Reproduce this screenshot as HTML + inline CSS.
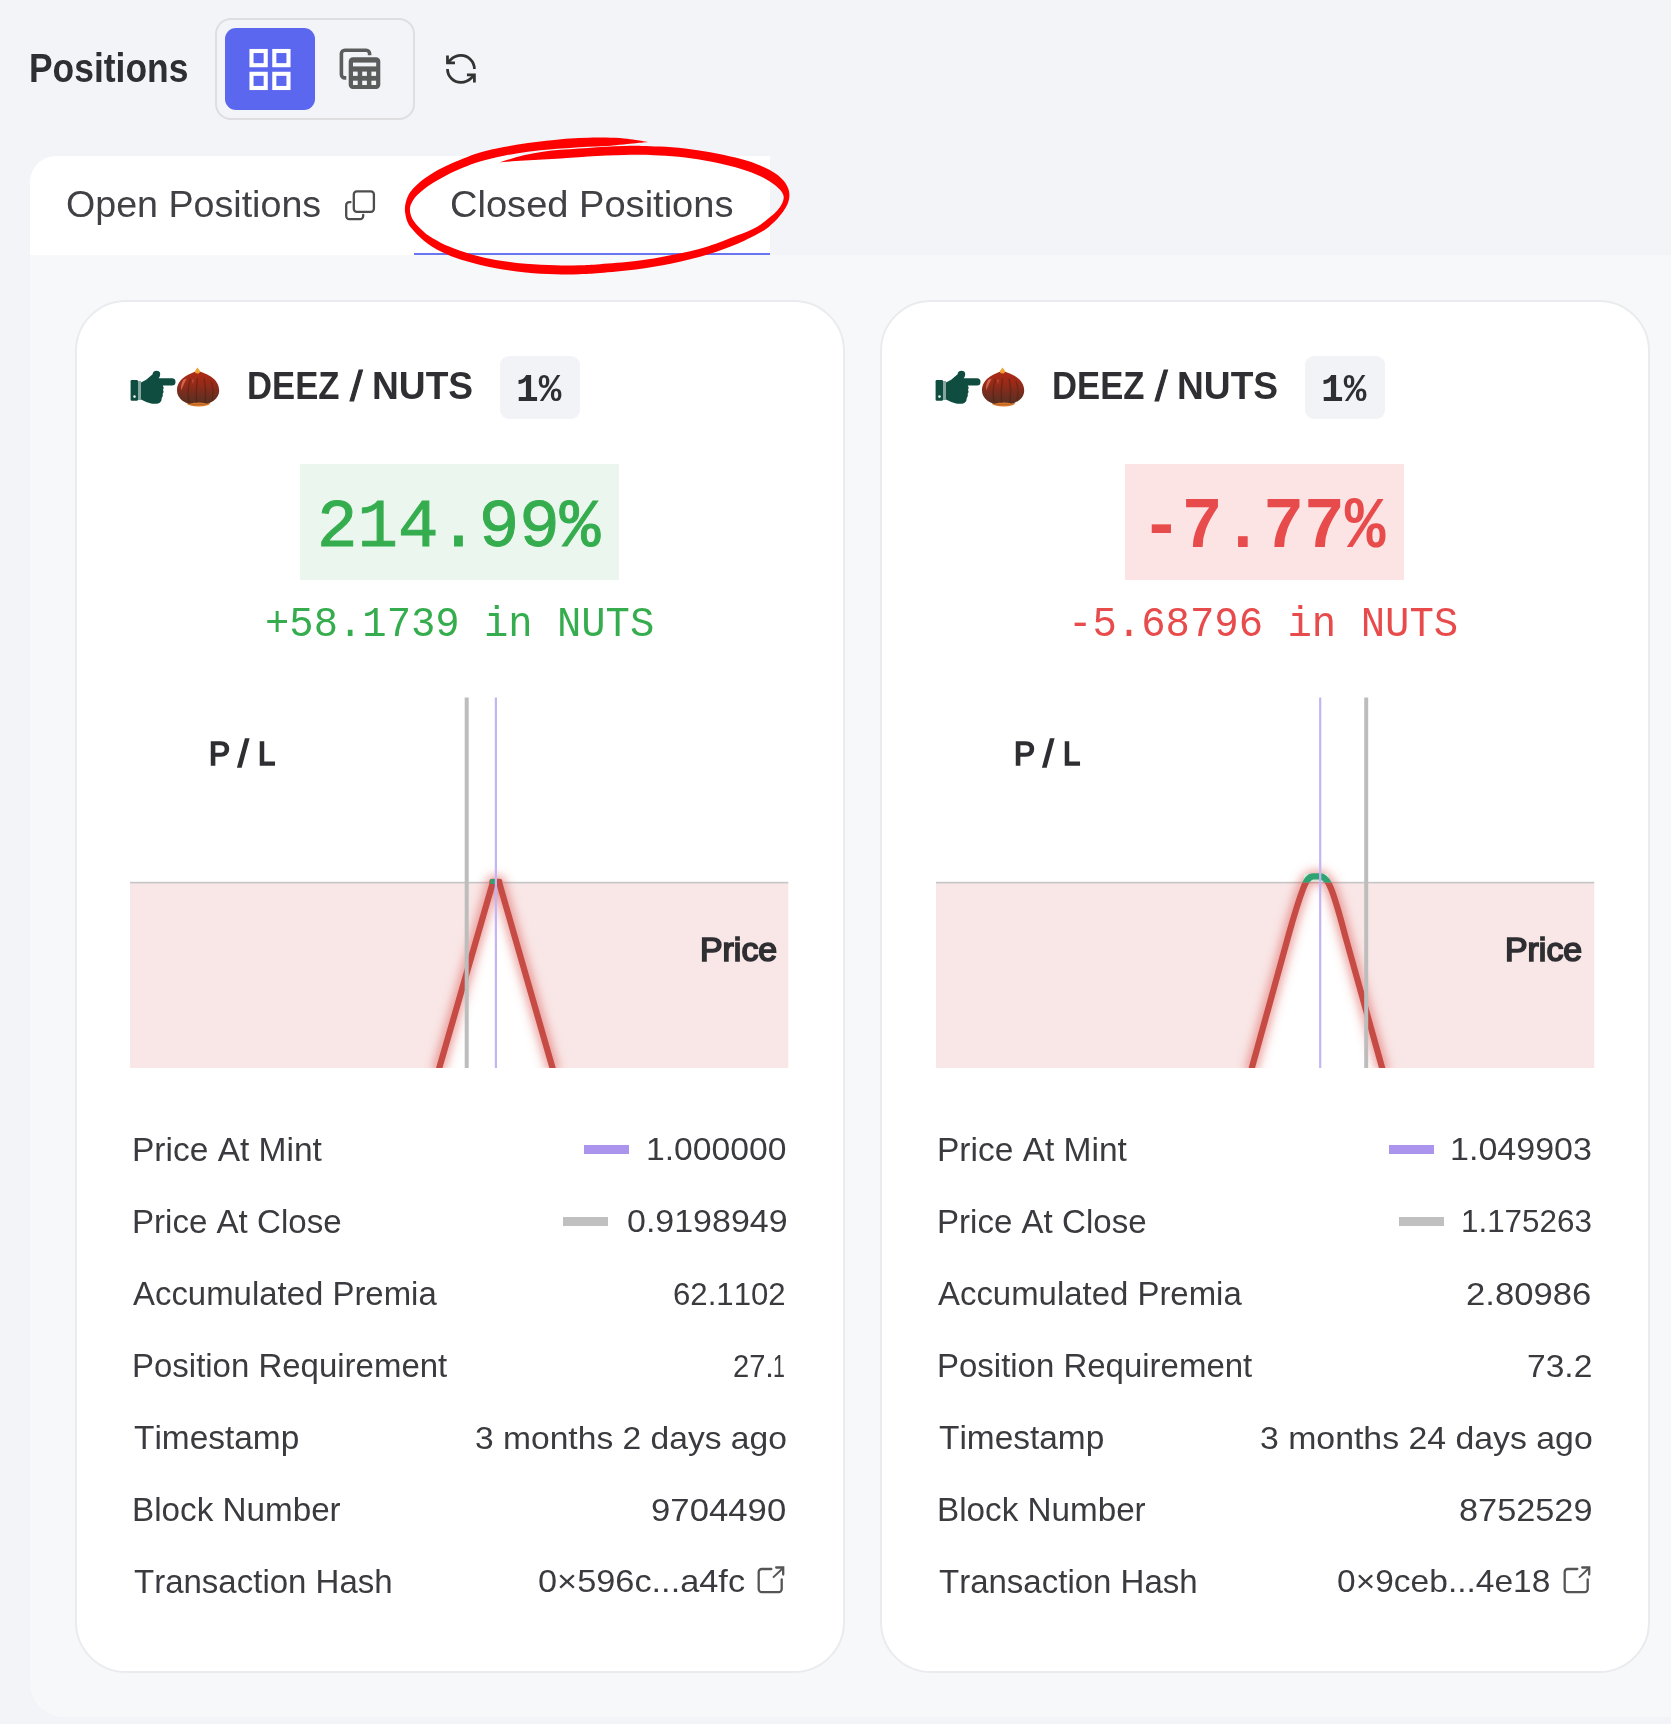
<!DOCTYPE html>
<html lang="en"><head><meta charset="utf-8"><title>Positions</title>
<style>
html,body{margin:0;padding:0;overflow:hidden}
body{width:1671px;height:1724px;background:#f3f4f8;position:relative;overflow:hidden;font-family:"Liberation Sans",sans-serif;font-kerning:none}
.t{position:absolute;white-space:nowrap;transform-origin:0 0;font-kerning:none}
.abs{position:absolute}
.card{position:absolute;top:300px;width:770px;height:1373px;box-sizing:border-box;background:#fff;border:2px solid #eaebef;border-radius:51px}
svg{position:absolute;overflow:visible}
</style></head>
<body>
<div class="t" style="left:29.03px;top:49.07px;font:700 40.26px/40.26px 'Liberation Sans',sans-serif;font-kerning:none;letter-spacing:0.00px;color:#2f2f33;transform:scaleX(0.8798);">Positions</div>
<div class="abs" style="left:215px;top:18px;width:200px;height:102px;border:2px solid #dedee1;border-radius:16px;box-sizing:border-box"></div>
<div class="abs" style="left:225px;top:28px;width:90px;height:82px;background:#5b67ee;border-radius:11px"></div>
<svg style="left:245px;top:45px" width="50" height="50" viewBox="245 45 50 50"><rect x="251.5" y="51.0" width="14.2" height="14.2" fill="none" stroke="#fff" stroke-width="4.1"/><rect x="251.5" y="73.8" width="14.2" height="14.2" fill="none" stroke="#fff" stroke-width="4.1"/><rect x="274.3" y="51.0" width="14.2" height="14.2" fill="none" stroke="#fff" stroke-width="4.1"/><rect x="274.3" y="73.8" width="14.2" height="14.2" fill="none" stroke="#fff" stroke-width="4.1"/></svg>
<svg style="left:335px;top:45px" width="50" height="50" viewBox="335 45 50 50"><path d="M369.6 55.3 V53.6 a3.4 3.4 0 0 0 -3.4 -3.4 H344.8 a3.4 3.4 0 0 0 -3.4 3.4 V74.5 a3.4 3.4 0 0 0 3.4 3.4 H346.3" fill="none" stroke="#5c5c5c" stroke-width="3.6"/><rect x="348.7" y="57.2" width="31.6" height="31.8" rx="4.2" fill="#5c5c5c"/><rect x="353" y="62.6" width="23.2" height="3.8" fill="#f3f4f8"/><rect x="353.0" y="71.6" width="4.7" height="4.3" fill="#f3f4f8"/><rect x="353.0" y="80.7" width="4.7" height="4.3" fill="#f3f4f8"/><rect x="362.2" y="71.6" width="4.7" height="4.3" fill="#f3f4f8"/><rect x="362.2" y="80.7" width="4.7" height="4.3" fill="#f3f4f8"/><rect x="371.4" y="71.6" width="4.7" height="4.3" fill="#f3f4f8"/><rect x="371.4" y="80.7" width="4.7" height="4.3" fill="#f3f4f8"/></svg>
<svg style="left:442.8px;top:50.8px" width="35.9" height="35.9" viewBox="0 0 24 24"><g fill="none" stroke="#333" stroke-width="1.85" stroke-linecap="butt" stroke-linejoin="miter"><path d="M21 12a9 9 0 0 0-9-9 9.75 9.75 0 0 0-6.74 2.74L3 8"/><path d="M3 3v5h5"/><path d="M3 12a9 9 0 0 0 9 9 9.75 9.75 0 0 0 6.74-2.74L21 16"/><path d="M16 16h5v5"/></g></svg>
<div class="abs" style="left:30px;top:156px;width:740px;height:99px;background:#fff;border-top-left-radius:26px"></div>
<div class="abs" style="left:30px;top:255px;width:1641px;height:1462px;background:#f7f8fa;border-bottom-left-radius:34px"></div>
<div class="abs" style="left:414px;top:253px;width:356px;height:2px;background:#6a75f1"></div>
<div class="t" style="left:65.92px;top:187.29px;font:400 36.63px/36.63px 'Liberation Sans',sans-serif;font-kerning:none;letter-spacing:0.00px;color:#404045;transform:scaleX(1.0271);">Open Positions</div>
<svg style="left:340px;top:185px" width="40" height="40" viewBox="340 185 40 40"><rect x="353.8" y="191.4" width="20.1" height="20.4" rx="3" fill="none" stroke="#4d4d4d" stroke-width="2.3"/><path d="M350.5 202.1 H349.2 a3 3 0 0 0 -3 3 V216.1 a3 3 0 0 0 3 3 H360.2 a3 3 0 0 0 3 -3 V214.8" fill="none" stroke="#4d4d4d" stroke-width="2.3" stroke-linecap="round"/></svg>
<div class="t" style="left:449.67px;top:187.29px;font:400 36.63px/36.63px 'Liberation Sans',sans-serif;font-kerning:none;letter-spacing:0.00px;color:#404045;transform:scaleX(1.0392);">Closed Positions</div>
<div class="card" style="left:75px"></div>
<svg style="left:128.0px;top:366.0px" width="52" height="42" viewBox="128.0 366.0 52 42"><g transform="translate(0.00 0.00)"><rect x="130.6" y="380" width="7.4" height="20.8" rx="1.2" fill="#0f4d40"/><rect x="138" y="381" width="3" height="19" fill="#0f4d40" fill-opacity="0.5"/><circle cx="134.5" cy="396.6" r="1.3" fill="#e9f1ee"/><path d="M141 382.4 L146.2 379.8 L152.6 374.2 Q152.8 370.7 156.5 370.7 Q160.4 370.8 160.2 374.4 Q160 376.6 158.6 378.3 L172 378.3 Q175.5 378.4 175.5 381.9 Q175.5 385.4 172 385.4 L162.8 385.4 Q164.4 387.6 163 389.6 Q164.2 391.6 162.7 393.8 Q163.4 396 161.8 398 Q162 401.2 159.4 402.9 Q156.5 404.2 151 403.6 Q146.5 402.6 141 399.6 Z" fill="#0f4d40"/></g></svg>
<svg style="left:175.0px;top:365.0px" width="48" height="45" viewBox="175.0 365.0 48 45"><defs><linearGradient id="ng176" x1="0" y1="0" x2="0" y2="1"><stop offset="0" stop-color="#ad2a14"/><stop offset="0.35" stop-color="#9a2a18"/><stop offset="0.75" stop-color="#6b2e20"/><stop offset="1" stop-color="#55301f"/></linearGradient><clipPath id="ng176c"><path d="M197.6 371 C204 372.8 219.2 377.5 219.2 390.5 C219.2 398.5 211.5 404.8 198 404.8 C184.5 404.8 177 398.5 177 390.5 C177 377.5 192 372.8 197.6 371 Z"/></clipPath></defs><g transform="translate(0.00 0.00)"><ellipse cx="198.5" cy="403" rx="11.6" ry="3.6" fill="#d9782b"/><path d="M197.6 371 C204 372.8 219.2 377.5 219.2 390.5 C219.2 398.5 211.5 404.8 198 404.8 C184.5 404.8 177 398.5 177 390.5 C177 377.5 192 372.8 197.6 371 Z" fill="url(#ng176)"/><g clip-path="url(#ng176c)"><ellipse cx="198.5" cy="405.8" rx="11" ry="3.2" fill="#d9782b"/><path d="M190.5 379 Q186.5 390 189 402" stroke="#4a1c12" stroke-opacity="0.45" stroke-width="1.4" fill="none"/><path d="M197.5 378 Q195.5 390 196.5 403" stroke="#4a1c12" stroke-opacity="0.45" stroke-width="1.4" fill="none"/><path d="M204 378.5 Q206.5 390 205 402.5" stroke="#4a1c12" stroke-opacity="0.45" stroke-width="1.4" fill="none"/><path d="M211 381 Q214.5 390 212 400" stroke="#4a1c12" stroke-opacity="0.4" stroke-width="1.3" fill="none"/><path d="M183.6 379.5 Q180.4 384 181.2 390.5 Q184 383.5 186.8 378.6 Z" fill="#d8705c" fill-opacity="0.85"/><path d="M192.2 379.8 L193.6 379.4 L193 384.5 Z" fill="#d8705c" fill-opacity="0.7"/></g><path d="M197.5 367.6 L200.4 371.4 L198.8 373.6 L195.6 373.2 L194.8 371.2 Z" fill="#f0a232"/></g></svg>
<div class="t" style="left:246.98px;top:365.73px;font:700 39.54px/39.54px 'Liberation Sans',sans-serif;font-kerning:none;letter-spacing:0.00px;color:#2f2f33;transform:scaleX(0.8765);">DEEZ</div>
<div class="t" style="left:349.70px;top:366.34px;font:400 42.49px/42.49px 'Liberation Sans',sans-serif;font-kerning:none;letter-spacing:0.00px;color:#2f2f33;transform:scaleX(1.0675);-webkit-text-stroke:1.0px #2f2f33;">/</div>
<div class="t" style="left:371.81px;top:365.73px;font:700 39.54px/39.54px 'Liberation Sans',sans-serif;font-kerning:none;letter-spacing:0.00px;color:#2f2f33;transform:scaleX(0.9397);">NUTS</div>
<div class="abs" style="left:499.5px;top:355.5px;width:80px;height:63px;background:#f2f3f7;border-radius:9px"></div>
<div class="t" style="left:515.66px;top:370.69px;font:700 39.62px/39.62px 'Liberation Mono',monospace;font-kerning:none;letter-spacing:0.00px;color:#2f2f33;transform:scaleX(0.9531);">1%</div>
<div class="abs" style="left:299.8px;top:463.6px;width:319.59999999999997px;height:116.8px;background:#ebf6ee"></div>
<div class="t" style="left:316.86px;top:494.47px;font:400 69.06px/69.06px 'Liberation Mono',monospace;font-kerning:none;letter-spacing:0.00px;color:#35ad4e;transform:scaleX(0.9762);-webkit-text-stroke:1.0px #35ad4e;">214.99%</div>
<div class="t" style="left:264.70px;top:603.97px;font:400 42.05px/42.05px 'Liberation Mono',monospace;font-kerning:none;letter-spacing:0.00px;color:#35ad4e;transform:scaleX(0.9641);">+58.1739 in NUTS</div>
<svg style="left:130.3px;top:690px" width="658.5" height="378.0" viewBox="130.3 690 658.5 378.0"><defs><clipPath id="c1"><rect x="130.3" y="690" width="658.5" height="378.0"/></clipPath><clipPath id="c1r"><rect x="130.3" y="882.6" width="658.5" height="185.4"/></clipPath><clipPath id="c1g"><rect x="130.3" y="690" width="658.5" height="192.6"/></clipPath><filter id="c1b" x="-20%" y="-20%" width="140%" height="140%"><feGaussianBlur stdDeviation="5.5"/></filter></defs><g clip-path="url(#c1)"><path d="M 130.3 882.6 L 493.0 882.6 L 439.6 1068.0 L 130.3 1068.0 Z" fill="#f9e7e7"/><path d="M 499.6 882.6 L 788.8 882.6 L 788.8 1068.0 L 552.8 1068.0 Z" fill="#f9e7e7"/><rect x="130.3" y="881.8000000000001" width="658.5" height="1.6" fill="#c6c6c6"/><path d="M 438.4 1072 L 493.4 881.6 L 499.2 881.6 L 554.0 1072" fill="none" stroke="#dc5a55" stroke-opacity="0.7" stroke-width="10" filter="url(#c1b)"/><g clip-path="url(#c1r)"><path d="M 438.4 1072 L 493.4 881.6 L 499.2 881.6 L 554.0 1072" fill="none" stroke="#c54b44" stroke-width="6.2" stroke-linejoin="round"/></g><path d="M 492.5 881.6 L 499.8 881.6" stroke="#c54b44" stroke-width="5.6" stroke-linecap="round"/><rect x="490.6" y="879" width="4.6" height="5" fill="#2fa472"/><rect x="465.0" y="697.5" width="4" height="370.5" fill="#bdbdbd"/><rect x="495.09999999999997" y="697.5" width="2.2" height="370.5" fill="#c3b5f5"/></g></svg>
<div class="t" style="left:208.76px;top:736.75px;font:400 32.99px/32.99px 'Liberation Sans',sans-serif;font-kerning:none;letter-spacing:0.00px;color:#2f2f33;transform:scaleX(0.9567);-webkit-text-stroke:1.7px #2f2f33;">P</div>
<div class="t" style="left:237.85px;top:736.45px;font:400 37.86px/37.86px 'Liberation Sans',sans-serif;font-kerning:none;letter-spacing:0.00px;color:#2f2f33;transform:scaleX(0.9983);-webkit-text-stroke:1.7px #2f2f33;">/</div>
<div class="t" style="left:257.60px;top:736.75px;font:400 32.99px/32.99px 'Liberation Sans',sans-serif;font-kerning:none;letter-spacing:0.00px;color:#2f2f33;transform:scaleX(0.9417);-webkit-text-stroke:1.7px #2f2f33;">L</div>
<div class="t" style="left:700.37px;top:932.55px;font:400 32.99px/32.99px 'Liberation Sans',sans-serif;font-kerning:none;letter-spacing:0.00px;color:#2f2f33;transform:scaleX(1.0268);-webkit-text-stroke:1.7px #2f2f33;">Price</div>
<div class="t" style="left:132.10px;top:1133.79px;font:400 32.41px/32.41px 'Liberation Sans',sans-serif;font-kerning:none;letter-spacing:0.00px;color:#3a3a3f;transform:scaleX(1.0339);">Price At Mint</div>
<div class="t" style="left:132.14px;top:1205.79px;font:400 32.41px/32.41px 'Liberation Sans',sans-serif;font-kerning:none;letter-spacing:0.00px;color:#3a3a3f;transform:scaleX(1.0208);">Price At Close</div>
<div class="t" style="left:133.24px;top:1277.79px;font:400 32.41px/32.41px 'Liberation Sans',sans-serif;font-kerning:none;letter-spacing:0.00px;color:#3a3a3f;transform:scaleX(1.0158);">Accumulated Premia</div>
<div class="t" style="left:132.14px;top:1349.79px;font:400 32.41px/32.41px 'Liberation Sans',sans-serif;font-kerning:none;letter-spacing:0.00px;color:#3a3a3f;transform:scaleX(1.0174);">Position Requirement</div>
<div class="t" style="left:133.75px;top:1421.79px;font:400 32.41px/32.41px 'Liberation Sans',sans-serif;font-kerning:none;letter-spacing:0.00px;color:#3a3a3f;transform:scaleX(1.0309);">Timestamp</div>
<div class="t" style="left:132.12px;top:1493.79px;font:400 32.41px/32.41px 'Liberation Sans',sans-serif;font-kerning:none;letter-spacing:0.00px;color:#3a3a3f;transform:scaleX(1.0254);">Block Number</div>
<div class="t" style="left:133.76px;top:1565.79px;font:400 32.41px/32.41px 'Liberation Sans',sans-serif;font-kerning:none;letter-spacing:0.00px;color:#3a3a3f;transform:scaleX(1.0184);">Transaction Hash</div>
<div class="t" style="left:646.33px;top:1133.93px;font:400 31.94px/31.94px 'Liberation Sans',sans-serif;font-kerning:none;letter-spacing:0.00px;color:#3a3a3f;transform:scaleX(1.0546);">1.000000</div>
<div class="t" style="left:626.57px;top:1205.73px;font:400 31.94px/31.94px 'Liberation Sans',sans-serif;font-kerning:none;letter-spacing:0.00px;color:#3a3a3f;transform:scaleX(1.0634);">0.9198949</div>
<div class="t" style="left:673.42px;top:1279.03px;font:400 31.94px/31.94px 'Liberation Sans',sans-serif;font-kerning:none;letter-spacing:0.00px;color:#3a3a3f;transform:scaleX(0.9758);">62.1102</div>
<div class="t" style="left:733.23px;top:1351.43px;font:400 31.94px/31.94px 'Liberation Sans',sans-serif;font-kerning:none;letter-spacing:0.00px;color:#3a3a3f;transform:scaleX(0.9130);">27</div>
<div class="t" style="left:765.23px;top:1351.43px;font:400 31.94px/31.94px 'Liberation Sans',sans-serif;font-kerning:none;letter-spacing:0.00px;color:#3a3a3f;transform:scaleX(1.0194);">.</div>
<div class="t" style="left:772.77px;top:1351.43px;font:400 31.94px/31.94px 'Liberation Sans',sans-serif;font-kerning:none;letter-spacing:0.00px;color:#3a3a3f;transform:scaleX(0.6681);">1</div>
<div class="t" style="left:474.62px;top:1423.23px;font:400 31.94px/31.94px 'Liberation Sans',sans-serif;font-kerning:none;letter-spacing:0.00px;color:#3a3a3f;transform:scaleX(1.0519);">3 months 2 days ago</div>
<div class="t" style="left:650.67px;top:1495.03px;font:400 31.94px/31.94px 'Liberation Sans',sans-serif;font-kerning:none;letter-spacing:0.00px;color:#3a3a3f;transform:scaleX(1.0873);">9704490</div>
<div class="t" style="left:537.66px;top:1565.63px;font:400 31.94px/31.94px 'Liberation Sans',sans-serif;font-kerning:none;letter-spacing:0.00px;color:#3a3a3f;transform:scaleX(1.0747);">0×596c...a4fc</div>
<div class="abs" style="left:583.6px;top:1145px;width:45px;height:9px;background:#ab94ee"></div>
<div class="abs" style="left:562.6px;top:1217px;width:45px;height:9px;background:#c0c0c0"></div>
<svg style="left:750.3px;top:1560.0px" width="40" height="40" viewBox="750.3 1560.0 40 40"><g transform="translate(0.30 0.00)" fill="none" stroke="#555" stroke-width="2.3" stroke-linecap="round" stroke-linejoin="round"><path d="M771.3 1569 H761.7 a3 3 0 0 0 -3 3 V1589.1 a3 3 0 0 0 3 3 H778.7 a3 3 0 0 0 3 -3 V1579.3"/><path d="M773 1577.6 L782.8 1568.2" stroke-linecap="butt" stroke-width="2"/><path d="M776.2 1567.5 H783.2 V1574.6" stroke-linejoin="miter"/></g></svg>
<div class="card" style="left:880px"></div>
<svg style="left:933.0px;top:366.0px" width="52" height="42" viewBox="933.0 366.0 52 42"><g transform="translate(805.00 0.00)"><rect x="130.6" y="380" width="7.4" height="20.8" rx="1.2" fill="#0f4d40"/><rect x="138" y="381" width="3" height="19" fill="#0f4d40" fill-opacity="0.5"/><circle cx="134.5" cy="396.6" r="1.3" fill="#e9f1ee"/><path d="M141 382.4 L146.2 379.8 L152.6 374.2 Q152.8 370.7 156.5 370.7 Q160.4 370.8 160.2 374.4 Q160 376.6 158.6 378.3 L172 378.3 Q175.5 378.4 175.5 381.9 Q175.5 385.4 172 385.4 L162.8 385.4 Q164.4 387.6 163 389.6 Q164.2 391.6 162.7 393.8 Q163.4 396 161.8 398 Q162 401.2 159.4 402.9 Q156.5 404.2 151 403.6 Q146.5 402.6 141 399.6 Z" fill="#0f4d40"/></g></svg>
<svg style="left:980.0px;top:365.0px" width="48" height="45" viewBox="980.0 365.0 48 45"><defs><linearGradient id="ng981" x1="0" y1="0" x2="0" y2="1"><stop offset="0" stop-color="#ad2a14"/><stop offset="0.35" stop-color="#9a2a18"/><stop offset="0.75" stop-color="#6b2e20"/><stop offset="1" stop-color="#55301f"/></linearGradient><clipPath id="ng981c"><path d="M197.6 371 C204 372.8 219.2 377.5 219.2 390.5 C219.2 398.5 211.5 404.8 198 404.8 C184.5 404.8 177 398.5 177 390.5 C177 377.5 192 372.8 197.6 371 Z"/></clipPath></defs><g transform="translate(805.00 0.00)"><ellipse cx="198.5" cy="403" rx="11.6" ry="3.6" fill="#d9782b"/><path d="M197.6 371 C204 372.8 219.2 377.5 219.2 390.5 C219.2 398.5 211.5 404.8 198 404.8 C184.5 404.8 177 398.5 177 390.5 C177 377.5 192 372.8 197.6 371 Z" fill="url(#ng981)"/><g clip-path="url(#ng981c)"><ellipse cx="198.5" cy="405.8" rx="11" ry="3.2" fill="#d9782b"/><path d="M190.5 379 Q186.5 390 189 402" stroke="#4a1c12" stroke-opacity="0.45" stroke-width="1.4" fill="none"/><path d="M197.5 378 Q195.5 390 196.5 403" stroke="#4a1c12" stroke-opacity="0.45" stroke-width="1.4" fill="none"/><path d="M204 378.5 Q206.5 390 205 402.5" stroke="#4a1c12" stroke-opacity="0.45" stroke-width="1.4" fill="none"/><path d="M211 381 Q214.5 390 212 400" stroke="#4a1c12" stroke-opacity="0.4" stroke-width="1.3" fill="none"/><path d="M183.6 379.5 Q180.4 384 181.2 390.5 Q184 383.5 186.8 378.6 Z" fill="#d8705c" fill-opacity="0.85"/><path d="M192.2 379.8 L193.6 379.4 L193 384.5 Z" fill="#d8705c" fill-opacity="0.7"/></g><path d="M197.5 367.6 L200.4 371.4 L198.8 373.6 L195.6 373.2 L194.8 371.2 Z" fill="#f0a232"/></g></svg>
<div class="t" style="left:1051.98px;top:365.73px;font:700 39.54px/39.54px 'Liberation Sans',sans-serif;font-kerning:none;letter-spacing:0.00px;color:#2f2f33;transform:scaleX(0.8765);">DEEZ</div>
<div class="t" style="left:1154.70px;top:366.34px;font:400 42.49px/42.49px 'Liberation Sans',sans-serif;font-kerning:none;letter-spacing:0.00px;color:#2f2f33;transform:scaleX(1.0675);-webkit-text-stroke:1.0px #2f2f33;">/</div>
<div class="t" style="left:1176.81px;top:365.73px;font:700 39.54px/39.54px 'Liberation Sans',sans-serif;font-kerning:none;letter-spacing:0.00px;color:#2f2f33;transform:scaleX(0.9397);">NUTS</div>
<div class="abs" style="left:1304.5px;top:355.5px;width:80px;height:63px;background:#f2f3f7;border-radius:9px"></div>
<div class="t" style="left:1320.66px;top:370.69px;font:700 39.62px/39.62px 'Liberation Mono',monospace;font-kerning:none;letter-spacing:0.00px;color:#2f2f33;transform:scaleX(0.9531);">1%</div>
<div class="abs" style="left:1124.9px;top:463.6px;width:279.0px;height:116.8px;background:#fde4e4"></div>
<div class="t" style="left:1141.06px;top:492.67px;font:700 71.66px/71.66px 'Liberation Mono',monospace;font-kerning:none;letter-spacing:0.00px;color:#e84b4b;transform:scaleX(0.9473);">-7.77%</div>
<div class="t" style="left:1068.37px;top:603.97px;font:400 42.05px/42.05px 'Liberation Mono',monospace;font-kerning:none;letter-spacing:0.00px;color:#e84b4b;transform:scaleX(0.9665);">-5.68796 in NUTS</div>
<svg style="left:935.8px;top:690px" width="658.5" height="378.0" viewBox="935.8 690 658.5 378.0"><defs><clipPath id="c2"><rect x="935.8" y="690" width="658.5" height="378.0"/></clipPath><clipPath id="c2r"><rect x="935.8" y="882.6" width="658.5" height="185.4"/></clipPath><clipPath id="c2g"><rect x="935.8" y="690" width="658.5" height="192.6"/></clipPath><filter id="c2b" x="-20%" y="-20%" width="140%" height="140%"><feGaussianBlur stdDeviation="5.5"/></filter></defs><g clip-path="url(#c2)"><path d="M 935.8 882.6 L 1305.2 882.6 L 1303 888.5 C 1299 899 1294.5 913 1288.5 934.7 L 1251.6 1068.0 L 935.8 1068.0 Z" fill="#f9e7e7"/><path d="M 1328.4 882.6 L 1594.3 882.6 L 1594.3 1068.0 L 1382 1068.0 L 1344.7 934.7 C 1339 913 1335 899 1330.8 888.5 Z" fill="#f9e7e7"/><rect x="935.8" y="881.8000000000001" width="658.5" height="1.6" fill="#c6c6c6"/><path d="M 1250.5 1072 L 1288.5 934.7 C 1294.5 913 1299 899 1303 888.5 C 1306 880.5 1308.5 876.4 1313 876.4 L 1320 876.4 C 1324.5 876.4 1327.5 880.5 1330.8 888.5 C 1335 899 1339 913 1344.7 934.7 L 1383.1 1072" fill="none" stroke="#dc5a55" stroke-opacity="0.7" stroke-width="10" filter="url(#c2b)"/><rect x="1303.6" y="873.6" width="24.6" height="8.2" fill="#d9eee2" fill-opacity="0.85"/><g clip-path="url(#c2r)"><path d="M 1250.5 1072 L 1288.5 934.7 C 1294.5 913 1299 899 1303 888.5 C 1306 880.5 1308.5 876.4 1313 876.4 L 1320 876.4 C 1324.5 876.4 1327.5 880.5 1330.8 888.5 C 1335 899 1339 913 1344.7 934.7 L 1383.1 1072" fill="none" stroke="#c54b44" stroke-width="6.2" stroke-linejoin="round"/></g><g clip-path="url(#c2g)"><path d="M 1250.5 1072 L 1288.5 934.7 C 1294.5 913 1299 899 1303 888.5 C 1306 880.5 1308.5 876.4 1313 876.4 L 1320 876.4 C 1324.5 876.4 1327.5 880.5 1330.8 888.5 C 1335 899 1339 913 1344.7 934.7 L 1383.1 1072" fill="none" stroke="#2fa472" stroke-width="6.2"/></g><rect x="1364.0" y="697.5" width="4" height="370.5" fill="#bdbdbd"/><rect x="1318.9" y="697.5" width="2.2" height="370.5" fill="#c3b5f5"/></g></svg>
<div class="t" style="left:1013.76px;top:736.75px;font:400 32.99px/32.99px 'Liberation Sans',sans-serif;font-kerning:none;letter-spacing:0.00px;color:#2f2f33;transform:scaleX(0.9567);-webkit-text-stroke:1.7px #2f2f33;">P</div>
<div class="t" style="left:1042.85px;top:736.45px;font:400 37.86px/37.86px 'Liberation Sans',sans-serif;font-kerning:none;letter-spacing:0.00px;color:#2f2f33;transform:scaleX(0.9983);-webkit-text-stroke:1.7px #2f2f33;">/</div>
<div class="t" style="left:1062.60px;top:736.75px;font:400 32.99px/32.99px 'Liberation Sans',sans-serif;font-kerning:none;letter-spacing:0.00px;color:#2f2f33;transform:scaleX(0.9417);-webkit-text-stroke:1.7px #2f2f33;">L</div>
<div class="t" style="left:1505.37px;top:932.55px;font:400 32.99px/32.99px 'Liberation Sans',sans-serif;font-kerning:none;letter-spacing:0.00px;color:#2f2f33;transform:scaleX(1.0268);-webkit-text-stroke:1.7px #2f2f33;">Price</div>
<div class="t" style="left:937.10px;top:1133.79px;font:400 32.41px/32.41px 'Liberation Sans',sans-serif;font-kerning:none;letter-spacing:0.00px;color:#3a3a3f;transform:scaleX(1.0339);">Price At Mint</div>
<div class="t" style="left:937.14px;top:1205.79px;font:400 32.41px/32.41px 'Liberation Sans',sans-serif;font-kerning:none;letter-spacing:0.00px;color:#3a3a3f;transform:scaleX(1.0208);">Price At Close</div>
<div class="t" style="left:938.24px;top:1277.79px;font:400 32.41px/32.41px 'Liberation Sans',sans-serif;font-kerning:none;letter-spacing:0.00px;color:#3a3a3f;transform:scaleX(1.0158);">Accumulated Premia</div>
<div class="t" style="left:937.14px;top:1349.79px;font:400 32.41px/32.41px 'Liberation Sans',sans-serif;font-kerning:none;letter-spacing:0.00px;color:#3a3a3f;transform:scaleX(1.0174);">Position Requirement</div>
<div class="t" style="left:938.75px;top:1421.79px;font:400 32.41px/32.41px 'Liberation Sans',sans-serif;font-kerning:none;letter-spacing:0.00px;color:#3a3a3f;transform:scaleX(1.0309);">Timestamp</div>
<div class="t" style="left:937.12px;top:1493.79px;font:400 32.41px/32.41px 'Liberation Sans',sans-serif;font-kerning:none;letter-spacing:0.00px;color:#3a3a3f;transform:scaleX(1.0254);">Block Number</div>
<div class="t" style="left:938.76px;top:1565.79px;font:400 32.41px/32.41px 'Liberation Sans',sans-serif;font-kerning:none;letter-spacing:0.00px;color:#3a3a3f;transform:scaleX(1.0184);">Transaction Hash</div>
<div class="t" style="left:1449.91px;top:1133.93px;font:400 31.94px/31.94px 'Liberation Sans',sans-serif;font-kerning:none;letter-spacing:0.00px;color:#3a3a3f;transform:scaleX(1.0659);">1.049903</div>
<div class="t" style="left:1460.91px;top:1205.73px;font:400 31.94px/31.94px 'Liberation Sans',sans-serif;font-kerning:none;letter-spacing:0.00px;color:#3a3a3f;transform:scaleX(0.9824);">1.175263</div>
<div class="t" style="left:1466.26px;top:1279.03px;font:400 31.94px/31.94px 'Liberation Sans',sans-serif;font-kerning:none;letter-spacing:0.00px;color:#3a3a3f;transform:scaleX(1.0851);">2.80986</div>
<div class="t" style="left:1526.78px;top:1351.43px;font:400 31.94px/31.94px 'Liberation Sans',sans-serif;font-kerning:none;letter-spacing:0.00px;color:#3a3a3f;transform:scaleX(1.0507);">73.2</div>
<div class="t" style="left:1259.51px;top:1423.23px;font:400 31.94px/31.94px 'Liberation Sans',sans-serif;font-kerning:none;letter-spacing:0.00px;color:#3a3a3f;transform:scaleX(1.0587);">3 months 24 days ago</div>
<div class="t" style="left:1458.51px;top:1495.03px;font:400 31.94px/31.94px 'Liberation Sans',sans-serif;font-kerning:none;letter-spacing:0.00px;color:#3a3a3f;transform:scaleX(1.0738);">8752529</div>
<div class="t" style="left:1337.49px;top:1565.63px;font:400 31.94px/31.94px 'Liberation Sans',sans-serif;font-kerning:none;letter-spacing:0.00px;color:#3a3a3f;transform:scaleX(1.0493);">0×9ceb...4e18</div>
<div class="abs" style="left:1389px;top:1145px;width:45px;height:9px;background:#ab94ee"></div>
<div class="abs" style="left:1399.3px;top:1217px;width:45px;height:9px;background:#c0c0c0"></div>
<svg style="left:1556.0px;top:1560.0px" width="40" height="40" viewBox="1556.0 1560.0 40 40"><g transform="translate(806.00 0.00)" fill="none" stroke="#555" stroke-width="2.3" stroke-linecap="round" stroke-linejoin="round"><path d="M771.3 1569 H761.7 a3 3 0 0 0 -3 3 V1589.1 a3 3 0 0 0 3 3 H778.7 a3 3 0 0 0 3 -3 V1579.3"/><path d="M773 1577.6 L782.8 1568.2" stroke-linecap="butt" stroke-width="2"/><path d="M776.2 1567.5 H783.2 V1574.6" stroke-linejoin="miter"/></g></svg>
<svg style="left:400px;top:130px" width="400" height="150" viewBox="400 130 400 150"><path d="M649 142.1 C646.8 141.8 640.0 140.6 635.8 140.0 C631.6 139.4 628.9 138.9 623.9 138.5 C618.9 138.1 611.9 137.7 605.9 137.6 C599.9 137.5 594.0 137.5 588.0 137.7 C582.0 137.8 576.0 138.1 570.0 138.5 C564.0 138.9 558.8 139.5 551.8 140.2 C544.8 140.9 535.9 141.8 527.9 142.9 C519.9 144.1 511.9 145.5 503.9 147.1 C495.9 148.7 486.9 150.6 480.0 152.5 C473.1 154.4 468.2 156.6 462.7 158.8 C457.2 161.0 452.2 163.1 447.0 165.6 C441.8 168.1 435.7 171.3 431.3 173.9 C426.9 176.5 423.9 178.9 420.9 181.3 C417.9 183.8 415.3 186.1 413.1 188.6 C410.9 191.1 409.1 193.6 407.8 196.4 C406.5 199.2 405.6 202.5 405.2 205.3 C404.8 208.1 404.8 210.4 405.2 213.1 C405.6 215.8 406.2 218.9 407.3 221.5 C408.4 224.1 409.2 225.6 412.0 228.8 C414.8 232.0 418.9 236.8 423.9 240.7 C428.9 244.6 434.9 248.7 441.9 252.1 C448.9 255.5 456.8 258.4 465.8 261.1 C474.8 263.8 485.8 266.4 495.8 268.3 C505.8 270.2 515.7 271.4 525.7 272.4 C535.7 273.4 546.6 273.9 555.6 274.2 C564.6 274.5 572.1 274.4 579.5 274.2 C586.9 274.0 590.6 273.8 600.0 273.0 C609.4 272.2 623.9 271.1 635.9 269.5 C647.9 267.9 659.8 266.0 671.8 263.5 C683.8 261.0 696.7 257.8 707.7 254.5 C718.7 251.2 728.6 247.5 737.6 243.7 C746.6 239.9 755.7 235.2 761.6 231.8 C767.5 228.4 769.8 226.0 773.1 223.0 C776.4 220.0 779.1 216.9 781.5 213.8 C783.9 210.7 786.0 207.4 787.3 204.5 C788.6 201.6 789.2 198.8 789.4 196.2 C789.5 193.5 789.2 191.3 788.2 188.6 C787.2 185.9 785.7 183.0 783.2 180.2 C780.7 177.4 777.6 174.6 773.1 171.9 C768.6 169.2 762.6 166.3 756.3 163.9 C750.0 161.5 743.1 159.6 735.4 157.6 C727.7 155.6 718.7 153.7 710.3 152.2 C701.9 150.7 693.5 149.3 685.1 148.4 C676.7 147.5 667.2 147.0 660.0 146.6 C652.8 146.2 647.8 146.0 641.8 145.9 C635.8 145.8 629.9 145.9 623.9 146.1 C617.9 146.2 611.9 146.5 605.9 146.8 C599.9 147.1 594.0 147.6 588.0 148.0 C582.0 148.4 576.0 148.8 570.0 149.2 C564.0 149.6 557.8 149.9 551.8 150.6 C545.8 151.3 539.9 152.2 533.9 153.3 C527.9 154.4 521.7 155.6 515.9 157.2 C510.1 158.8 502.0 161.7 499.2 162.6 C502.0 162.3 510.1 161.5 515.9 161.1 C521.7 160.7 527.9 160.2 533.9 159.9 C539.9 159.6 545.8 159.3 551.8 159.0 C557.8 158.7 564.0 158.2 570.0 157.8 C576.0 157.4 582.0 156.8 588.0 156.4 C594.0 156.0 599.9 155.8 605.9 155.5 C611.9 155.2 617.9 155.0 623.9 154.9 C629.9 154.8 635.8 154.7 641.8 154.8 C647.8 154.9 652.8 155.1 660.0 155.5 C667.2 155.9 676.7 156.5 685.1 157.5 C693.5 158.5 701.9 159.8 710.3 161.4 C718.7 163.0 727.7 165.1 735.4 167.3 C743.1 169.5 750.4 172.0 756.3 174.4 C762.2 176.8 766.7 179.4 770.6 181.9 C774.5 184.4 777.6 187.1 779.8 189.5 C782.0 191.9 783.2 194.0 783.6 196.2 C784.0 198.4 783.3 200.5 782.3 202.9 C781.2 205.3 779.5 207.9 777.3 210.4 C775.1 212.9 772.4 215.1 768.9 217.9 C765.4 220.7 761.5 224.3 756.3 227.2 C751.1 230.1 745.7 232.1 737.6 235.3 C729.5 238.5 718.7 243.1 707.7 246.4 C696.7 249.7 683.8 252.6 671.8 255.1 C659.8 257.6 647.9 259.6 635.9 261.1 C623.9 262.6 609.4 263.5 600.0 264.2 C590.6 264.9 586.9 265.1 579.5 265.3 C572.1 265.5 564.6 265.6 555.6 265.3 C546.6 265.1 535.7 264.7 525.7 263.8 C515.7 262.9 504.8 261.4 495.8 259.9 C486.8 258.3 479.8 256.8 471.8 254.5 C463.8 252.2 454.9 249.1 447.9 246.1 C440.9 243.1 434.0 239.0 429.9 236.5 C425.8 234.0 425.1 233.0 423.2 231.3 C421.2 229.6 419.7 228.1 418.2 226.5 C416.7 224.9 415.5 223.6 414.3 221.8 C413.1 220.0 411.7 217.8 411.0 215.7 C410.3 213.6 409.9 211.4 409.9 209.5 C409.9 207.6 410.2 206.1 411.0 204.2 C411.8 202.3 413.0 200.1 414.6 198.0 C416.2 195.9 418.1 194.0 420.9 191.7 C423.7 189.3 426.9 186.7 431.3 183.9 C435.7 181.1 441.8 177.7 447.0 175.0 C452.2 172.3 457.2 170.0 462.7 167.7 C468.2 165.4 473.1 163.4 480.0 161.4 C486.9 159.4 495.9 157.3 503.9 155.7 C511.9 154.1 519.9 152.9 527.9 151.8 C535.9 150.7 544.8 149.8 551.8 149.2 C558.8 148.6 564.0 148.4 570.0 148.0 C576.0 147.6 582.0 147.2 588.0 146.8 C594.0 146.5 599.9 146.3 605.9 145.9 C611.9 145.5 618.9 144.8 623.9 144.4 C628.9 144.0 631.6 143.7 635.8 143.3 C640.0 142.9 646.8 142.3 649.0 142.1 Z" fill="#fe0000"/></svg>
</body></html>
